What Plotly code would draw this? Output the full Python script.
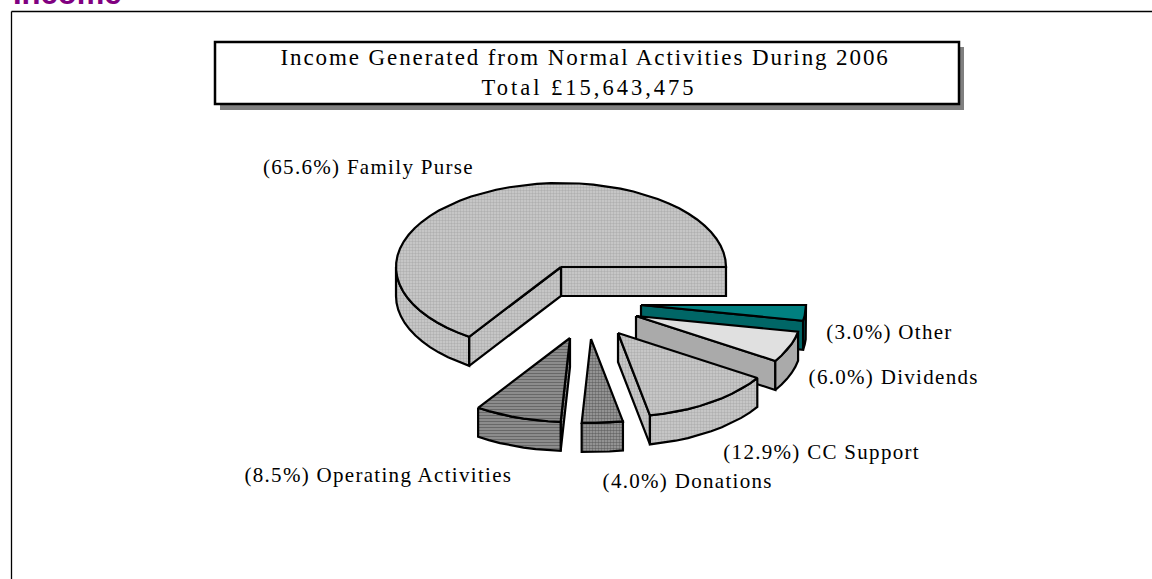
import math
import plotly.graph_objects as go

# ---- data ----
categories = ["Family Purse", "Operating Activities", "Donations", "CC Support", "Dividends", "Other"]
percent = [65.6, 8.5, 4.0, 12.9, 6.0, 3.0]
title_lines = ["Income Generated from Normal Activities During 2006", "Total £15,643,475"]
header = "Income"

# ---- styling / layout ----
W, H = 1152, 579
RX, RY, DEPTH = 165, 84, 29
APEX = {"Family Purse": (561, 267), "Operating Activities": (570, 338), "Donations": (591, 339),
        "CC Support": (618, 333), "Dividends": (636, 316), "Other": (641, 305)}
# (pattern shape, pattern size, solidity, foreground, background)
TOP = {"Family Purse": (".", 3, 0.5, "#b0b0b0", "#cecece"),
       "Operating Activities": ("-", 3, 0.45, "#686868", "#949494"),
       "Donations": (".", 3, 0.55, "#686868", "#a4a4a4"),
       "CC Support": (".", 3, 0.5, "#b0b0b0", "#cecece"),
       "Dividends": ("", 0, 0, "#e0e0e0", "#e0e0e0"),
       "Other": ("", 0, 0, "#008080", "#008080")}
WALL = dict(TOP)
WALL["Dividends"] = ("", 0, 0, "#aaaaaa", "#aaaaaa")
WALL["Other"] = ("", 0, 0, "#006666", "#006666")
LABEL_POS = {"Family Purse": (368.5, 167), "Operating Activities": (378, 475), "Donations": (687, 481),
             "CC Support": (821, 452), "Dividends": (893.5, 377), "Other": (889, 332)}
DRAW_ORDER = ["Other", "Dividends", "CC Support", "Family Purse", "Operating Activities", "Donations"]
SERIF = "Liberation Serif"

spans, start = {}, 0.0
for c, v in zip(categories, percent):
    spans[c] = (start, start + v * 3.6)
    start += v * 3.6


def rim(c, deg):
    ax, ay = APEX[c]
    t = math.radians(deg)
    return ax + RX * math.cos(t), ay - RY * math.sin(t)


def face(xy, style):
    shape, size, solidity, fg, bg = style
    pattern = dict(shape=shape, size=size, solidity=solidity, fgcolor=fg, bgcolor=bg, fillmode="replace") if shape else None
    return go.Scatter(x=[p[0] for p in xy] + [xy[0][0]], y=[p[1] for p in xy] + [xy[0][1]],
                      mode="lines", fill="toself", fillcolor=bg, fillpattern=pattern,
                      line=dict(color="black", width=2.2), hoverinfo="skip", showlegend=False)


def arc(c, a, b):
    n = max(2, int((b - a) / 5) + 1)
    return [rim(c, a + (b - a) * i / n) for i in range(n + 1)]


fig = go.Figure()
for c in DRAW_ORDER:
    a, b = spans[c]
    apex = APEX[c]
    down = lambda pts: [(x, y + DEPTH) for x, y in pts][::-1]
    if math.sin(math.radians(a - 90)) < 0:
        seg = [apex, rim(c, a)]
        fig.add_trace(face(seg + down(seg), WALL[c]))
    if math.sin(math.radians(b + 90)) < 0:
        seg = [apex, rim(c, b)]
        fig.add_trace(face(seg + down(seg), WALL[c]))
    lo, hi = max(a, 180), min(b, 360)
    if hi > lo:
        seg = arc(c, lo, hi)
        fig.add_trace(face(seg + down(seg), WALL[c]))
    fig.add_trace(face([apex] + arc(c, a, b), TOP[c]))

shapes = [
    dict(type="rect", x0=220, y0=47, x1=964, y1=110, fillcolor="#808080", line_width=0, layer="below"),
    dict(type="rect", x0=215, y0=42, x1=959, y1=104, fillcolor="white", line=dict(color="black", width=2.5), layer="below"),
    dict(type="line", x0=11.5, y0=H + 2, x1=11.5, y1=11.5, line=dict(color="black", width=1.3), layer="below"),
    dict(type="line", x0=11.5, y0=11.5, x1=W + 2, y1=11.5, line=dict(color="black", width=1.3), layer="below"),
]

annotations = [
    dict(x=584.5, y=57, text=title_lines[0], font=dict(family=SERIF, size=23, color="black")),
    dict(x=588.5, y=87, text=title_lines[1], font=dict(family=SERIF, size=22.5, color="black")),
    dict(x=67, y=12, text=f"<b>{header}</b>", yanchor="bottom",
         font=dict(family="Liberation Sans", size=31, color="#800080")),
]
for c, v in zip(categories, percent):
    x, y = LABEL_POS[c]
    annotations.append(dict(x=x, y=y, text=f"({v:.1f}%) {c}",
                            font=dict(family=SERIF, size=21, color="black")))
for a in annotations:
    a.update(xref="x", yref="y", showarrow=False, borderpad=0, xanchor="center", yanchor=a.get("yanchor", "middle"))

fig.update_layout(
    width=W, height=H, margin=dict(l=0, r=0, t=0, b=0), autosize=False,
    paper_bgcolor="white", plot_bgcolor="white", showlegend=False,
    xaxis=dict(range=[0, W], visible=False, fixedrange=True),
    yaxis=dict(range=[H, 0], visible=False, fixedrange=True),
    shapes=shapes, annotations=annotations,
)
post = """
document.body.style.margin = '0';
document.querySelectorAll('.annotation-text').forEach(function (t) {
  var s = parseFloat(t.style.fontSize);
  if (s === 23) t.style.letterSpacing = '1.9px';
  if (s === 22.5) t.style.letterSpacing = '3px';
  if (s === 21) t.style.letterSpacing = '1.3px';
});
"""
fig.write_html("out.html", config={"displayModeBar": False}, post_script=post)
